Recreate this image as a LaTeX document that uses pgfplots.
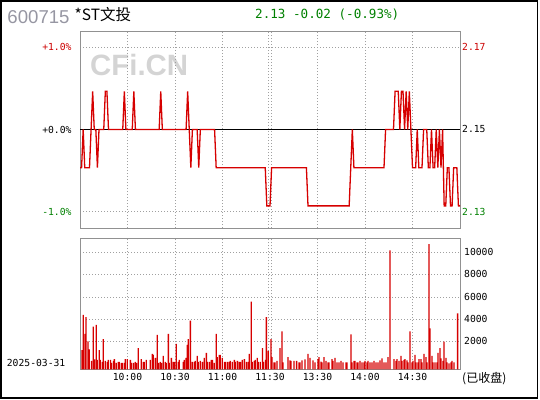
\documentclass[border=0pt]{standalone}
\usepackage{pgfplots}
\pgfplotsset{compat=1.18}
\usepackage{fontspec}
\setmainfont{Liberation Sans}
\newfontfamily\labelfont{DejaVu Sans Mono}
\newfontfamily\cjkfont{Noto Sans CJK SC}

\definecolor{upred}{RGB}{204,0,0}
\definecolor{downgreen}{RGB}{0,128,0}
\definecolor{linered}{RGB}{214,0,0}
\definecolor{panelframe}{RGB}{145,145,145}
\definecolor{gridc}{RGB}{160,160,160}
\definecolor{codegrey}{RGB}{150,150,162}
\definecolor{wmark}{RGB}{212,212,212}

\newcommand\lbl{\labelfont\fontsize{9.7bp}{11bp}\selectfont}

\pgfplotsset{
  panel/.style={
    scale only axis, width=380bp, xmin=0, xmax=240,
    scaled x ticks=false, scaled y ticks=false,
    axis line style={panelframe, line width=1bp},
    major tick length=0pt, tick style={draw=none},
    xmajorgrids, ymajorgrids,
    major grid style={gridc, line width=0.9bp, dash pattern=on 1bp off 2bp},
    xtick={30,60,90,119.3,120.7,150,180,210},
    every tick label/.append style={font=\lbl, inner sep=0pt},
  }
}

\begin{document}
\begin{tikzpicture}
\useasboundingbox (0,0) rectangle (540bp,-400bp);

% watermark behind the price panel
\node[anchor=west, inner sep=0, text=wmark,
      font=\bfseries\fontsize{29.4bp}{32bp}\selectfont] at (90bp,-65bp) {CFi.CN};

% ---- intraday price panel (minute index 0 = 9:30, 240 = 15:00) ----
\begin{axis}[panel, at={(80bp,-228bp)}, anchor=south west, height=197bp,
  ymin=2.1242, ymax=2.1758,
  ytick={2.1285,2.15,2.1715},
  yticklabels={{\textcolor{downgreen}{-1.0\%}},{+0.0\%},{\textcolor{upred}{+1.0\%}}},
  yticklabel style={anchor=east, xshift=-8.3bp},
  xticklabels={},
]
\addplot[black, line width=1.1bp] coordinates {(0,2.15) (240,2.15)};
\addplot[linered, line width=1.3bp] coordinates {
 (0,2.14) (1,2.14) (2,2.15) (3,2.14) (6,2.14) (7,2.15) (8,2.16) (9,2.15)
 (10,2.15) (11,2.14) (12,2.15) (15,2.15) (16,2.16) (17,2.16) (18,2.15)
 (27,2.15) (28,2.16) (29,2.15) (33,2.15) (34,2.16) (35,2.15)
 (50,2.15) (51,2.16) (52,2.15) (67,2.15) (68,2.16) (69,2.15) (70,2.14)
 (71,2.15) (74,2.15) (75,2.14) (76,2.15) (85,2.15) (86,2.14)
 (117,2.14) (118,2.13) (120,2.13) (121,2.14) (143,2.14) (144,2.13)
 (170,2.13) (171,2.14) (172,2.15) (173,2.14) (192,2.14) (193,2.15)
 (198,2.15) (199,2.16) (201,2.16) (202,2.15) (203,2.16) (204,2.16)
 (205,2.15) (206,2.16) (207,2.15) (208,2.16) (209,2.15) (210,2.14)
 (212,2.14) (213,2.15) (214,2.14) (216,2.14) (217,2.15) (219,2.15)
 (220,2.14) (221,2.14) (222,2.15) (223,2.14) (224,2.14) (225,2.15)
 (226,2.14) (227,2.15) (228,2.14) (229,2.15) (230,2.13) (231,2.13)
 (232,2.14) (233,2.14) (234,2.13) (235,2.13) (236,2.14) (238,2.14)
 (239,2.13) (240,2.13)};
\end{axis}

% price labels on the right
\node[anchor=west, inner sep=0, text=upred, font=\lbl] at (462bp,-47.3bp) {2.17};
\node[anchor=west, inner sep=0, font=\lbl] at (462bp,-129.3bp) {2.15};
\node[anchor=west, inner sep=0, text=downgreen, font=\lbl] at (462bp,-211.7bp) {2.13};

% ---- volume panel ----
\begin{axis}[panel, at={(80bp,-369.3bp)}, anchor=south west, height=131bp,
  ymin=0, ymax=11197,
  ytick={2393,4274,6154,8120,10000},
  yticklabels={2000,4000,6000,8000,10000},
  yticklabel pos=right,
  yticklabel style={anchor=west, xshift=4bp},
  xticklabels={10:00,10:30,11:00,,,13:30,14:00,14:30},
  extra x ticks={120}, extra x tick labels={11:30},
  extra x tick style={grid=none},
  xticklabel style={anchor=north, yshift=-3.4bp},
]
\addplot[ybar, bar width=1.3bp, bar shift=0pt, fill=linered, draw=none] coordinates {
 (1.3,1650) (2.1,4650) (3.2,3020) (3.8,4450) (5.1,2390) (5.9,1710) (7.2,710)
 (8.4,3650) (9.1,855) (10.3,3790) (10.9,800) (12.2,1650) (12.8,800) (14.1,630)
 (14.7,2590) (16.0,710) (17.3,630) (17.9,800) (19.2,800) (19.8,540) (21.1,710)
 (21.7,880) (22.9,540) (24.2,630) (24.8,630) (26.1,540) (26.7,540) (28.0,540)
 (28.6,880) (29.9,880) (31.8,800) (32.4,540) (33.7,540) (34.9,630) (35.6,540)
 (36.8,1820) (38.7,880) (40.0,630) (40.6,630) (41.9,800) (44.4,800) (45.7,1310)
 (46.3,1230) (47.6,970) (48.8,2940) (49.5,540) (50.7,630) (51.4,540) (52.6,1140)
 (53.9,630) (54.5,540) (55.8,3020) (56.4,540) (57.7,970) (58.9,630) (59.6,630)
 (60.8,2170) (62.1,630) (62.7,800) (65.3,630) (65.9,800) (66.9,970) (67.8,2080)
 (68.4,2590) (69.7,4160) (70.9,630) (72.2,630) (72.8,710) (74.1,1140) (74.7,630)
 (76.0,710) (77.3,630) (78.5,970) (79.8,1400) (80.4,630) (81.7,630) (82.9,800)
 (83.6,800) (84.8,540) (86.1,3020) (86.7,1050) (88.0,1230) (88.6,1230) (89.9,970)
 (91.2,630) (91.8,630) (93.1,630) (94.3,630) (94.9,710) (96.2,630) (97.5,800)
 (98.1,630) (99.4,710) (100.6,630) (101.3,630) (102.5,800) (103.8,880) (105.1,630)
 (106.3,630) (106.9,1310) (108.2,5790) (108.8,630) (110.1,710) (110.7,800)
 (112.0,970) (112.6,630) (113.9,630) (115.2,1820) (115.8,630) (117.1,800)
 (117.7,4470) (118.9,1570)
 (120.6,2590) (121.3,1050) (122.5,600) (123.2,600) (124.4,710) (126.3,1800)
 (127.6,3250) (128.2,600) (131.4,1050) (132.6,770) (133.3,710) (135.2,710)
 (136.8,710) (138.3,600) (138.9,600) (140.2,770) (142.1,855) (144.0,1310)
 (145.3,970) (147.2,770) (148.4,600) (150.3,880) (150.9,1050) (152.2,650)
 (152.8,600) (154.1,1050) (155.4,710) (156.6,600) (157.3,600) (159.2,880)
 (159.8,710) (161.1,970) (162.3,600) (163.6,600) (164.8,710) (166.1,600)
 (168.0,600) (168.6,600) (171.2,2990) (171.8,600) (173.1,710) (173.7,710)
 (174.9,600) (175.6,600) (176.8,710) (178.1,600) (179.4,600) (180.0,710)
 (181.3,600) (181.9,710) (183.2,600) (184.4,600) (185.7,710) (186.9,600)
 (188.2,600) (189.5,770) (190.7,940) (192.0,600) (193.3,600) (194.5,1050)
 (195.8,10170) (198.3,880) (199.6,710) (200.2,880) (201.5,710) (202.7,1140)
 (203.4,710) (204.6,800) (205.3,880) (206.5,770) (207.2,600) (208.4,3250)
 (209.7,600) (210.3,710) (211.6,1230) (212.2,600) (213.5,600) (214.1,880)
 (215.4,880) (216.0,600) (217.3,1310) (218.5,1050) (219.2,600) (220.4,10690)
 (221.1,3500) (222.3,1140) (222.9,600) (224.2,600) (225.5,600) (226.1,1400)
 (227.4,1800) (228.0,940) (229.3,710) (229.9,2370) (231.2,970) (231.8,600)
 (233.1,510) (234.3,600) (234.9,710) (236.2,600) (238.5,4790)};
\end{axis}

% header
\node[anchor=west, inner sep=0, text=codegrey,
      font=\fontsize{18.6bp}{21bp}\selectfont] at (7.3bp,-16.7bp) {600715};
\node[anchor=west, inner sep=0, font=\cjkfont\fontsize{15.5bp}{18bp}\selectfont]
      at (74.5bp,-15bp) {*ST文投};
\node[anchor=west, inner sep=0, text=downgreen,
      font=\labelfont\fontsize{12.6bp}{15bp}\selectfont] at (255bp,-14.8bp) {2.13 -0.02 (-0.93\%)};

% footer texts
\node[anchor=west, inner sep=0, font=\lbl] at (6.7bp,-362.5bp) {2025-03-31};
\node[anchor=west, inner sep=0, font=\cjkfont\fontsize{12bp}{14bp}\selectfont]
      at (462bp,-379bp) {(已收盘)};

% outer frame
\draw[black, line width=1.5bp] (0.75bp,-0.75bp) rectangle (537.5bp,-398bp);
\end{tikzpicture}
\end{document}
